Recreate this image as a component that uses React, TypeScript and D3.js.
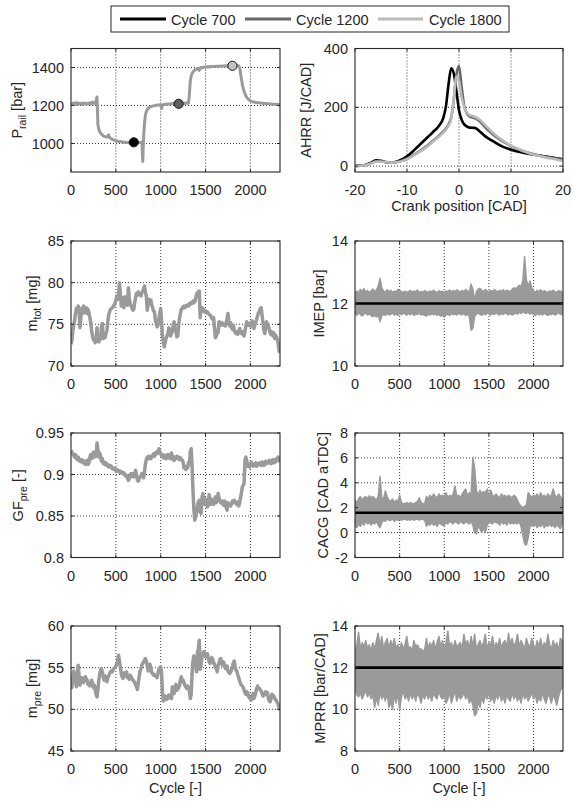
import React from 'react';
import * as d3 from 'd3';

// ---------- data ----------
const CYCLE_STEP = 10;
const ENV_STEP = 20;
const CYCLE_MAX = 2330;

const cycleTicks = [0, 500, 1000, 1500, 2000];
const pRailTicks = [1000, 1200, 1400];
const ahrrTicks = [0, 200, 400];
const crankTicks = [-20, -10, 0, 10, 20];
const mTotTicks = [70, 75, 80, 85];
const imepTicks = [10, 12, 14];
const gfTicks = [0.8, 0.85, 0.9, 0.95];
const cacgTicks = [-2, 0, 2, 4, 6, 8];
const mPreTicks = [45, 50, 55, 60];
const mprrTicks = [8, 10, 12, 14];

const legendLabels = ['Cycle 700', 'Cycle 1200', 'Cycle 1800'];
const markerCycles = [700, 1200, 1800];
const markerValues = [1006, 1209, 1409];

// rail pressure, every 10 cycles
const pRail = [
  1210, 1206, 1212, 1208, 1214, 1205, 1210, 1215, 1207, 1212,
  1209, 1213, 1206, 1211, 1208, 1214, 1210, 1207, 1212, 1209,
  1211, 1215, 1208, 1212, 1218, 1210, 1214, 1212, 1225, 1245,
  1100, 1075, 1062, 1055, 1050, 1045, 1040, 1038, 1036, 1035,
  1034, 1040, 1045, 1032, 1028, 1025, 1022, 1020, 1018, 1016,
  1014, 1013, 1012, 1011, 1010, 1010, 1009, 1008, 1008, 1007,
  1007, 1006, 1006, 1005, 1005, 1006, 1005, 1005, 1006, 1005,
  1006, 1005, 1004, 1006, 1005, 1004, 1005, 1006, 1003, 1008,
  905, 1040, 1110, 1150, 1168, 1178, 1185, 1189, 1192, 1194,
  1195, 1197, 1198, 1199, 1200, 1201, 1202, 1202, 1203, 1204,
  1200, 1185, 1203, 1205, 1206, 1206, 1207, 1207, 1208, 1208,
  1208, 1209, 1209, 1210, 1210, 1210, 1211, 1211, 1210, 1211,
  1211, 1211, 1212, 1211, 1212, 1212, 1211, 1212, 1212, 1213,
  1212, 1213, 1260, 1330, 1355, 1368, 1376, 1382, 1386, 1390,
  1392, 1394, 1396, 1385, 1398, 1400, 1399, 1401, 1402, 1401,
  1403, 1402, 1404, 1403, 1404, 1405, 1404, 1405, 1405, 1406,
  1405, 1406, 1406, 1407, 1406, 1407, 1407, 1408, 1407, 1408,
  1408, 1408, 1409, 1408, 1409, 1409, 1410, 1409, 1410, 1410,
  1410, 1410, 1411, 1410, 1411, 1410, 1410, 1408, 1400, 1370,
  1340, 1310, 1290, 1275, 1262, 1250, 1243, 1237, 1232, 1228,
  1225, 1222, 1220, 1219, 1218, 1217, 1216, 1215, 1215, 1214,
  1214, 1213, 1213, 1212, 1212, 1211, 1211, 1210, 1210, 1210,
  1209, 1209, 1208, 1208, 1207, 1207, 1206, 1206, 1206, 1205,
  1205, 1205, 1204, 1204,
];

const mTot = [
  72.6, 73.0, 74.2, 74.8, 75.5, 76.3, 76.9, 76.5, 77.2, 76.8,
  74.6, 75.8, 76.9, 76.3, 77.2, 76.7, 76.4, 77.0, 76.3, 76.8,
  76.4, 75.8, 75.2, 74.2, 73.6, 73.2, 73.0, 72.8, 73.1, 74.6,
  73.0, 72.9, 73.4, 73.2, 74.8, 75.1, 73.3, 73.6, 73.4, 73.9,
  74.2, 75.3, 76.1, 76.5, 76.8, 76.9, 77.0, 77.1, 77.3, 77.5,
  77.9, 78.4, 78.0, 78.6, 80.0, 78.8, 77.2, 77.8, 78.2, 77.0,
  78.3, 77.6, 77.9, 77.3, 79.4, 78.1, 77.5, 77.2, 76.9, 76.7,
  76.8, 77.6, 78.2, 78.7, 78.5, 78.9, 78.6, 78.7, 78.4, 78.8,
  79.0, 79.3, 79.6, 78.8, 78.4, 76.7, 77.5, 78.0, 77.6, 77.9,
  77.3, 77.0, 76.6, 76.5, 75.6, 75.1, 74.7, 74.9, 75.7, 76.4,
  76.9, 75.2, 73.6, 72.8, 72.3, 72.9, 73.3, 73.6, 73.9, 74.6,
  74.3, 73.6, 73.9, 74.1, 75.0, 75.3, 74.5, 74.2, 73.5, 73.6,
  74.9, 75.8, 76.3, 76.8, 76.9, 77.1, 77.2, 77.0, 77.1, 77.3,
  77.3, 77.2, 77.5, 77.4, 77.6, 77.5, 77.8, 77.6, 77.7, 78.1,
  78.6, 78.8, 78.9, 79.0, 75.8, 76.9, 77.0, 76.6, 76.8, 76.5,
  76.6, 76.4, 76.5, 76.3, 76.2, 76.1, 76.0, 75.7, 75.6, 75.8,
  74.5, 73.4, 73.6, 74.2, 74.0, 75.3, 75.0, 74.9, 75.2, 75.1,
  74.9, 75.0, 74.8, 75.2, 75.7, 76.3, 75.4, 74.8, 75.2, 74.6,
  74.4, 74.9, 74.3, 74.0, 73.9, 74.1, 73.8, 74.2, 74.5, 74.0,
  73.9, 74.1, 73.8, 73.6, 74.2, 74.8, 75.3, 75.0, 74.9, 75.1,
  74.8, 75.2, 75.4, 74.7, 74.5, 75.0, 75.3, 75.6, 76.0, 76.4,
  76.5, 76.9, 77.0, 76.1, 75.2, 74.3, 73.9, 74.6, 75.3, 75.0,
  74.8, 74.4, 74.0, 73.8, 74.1, 73.6, 74.0, 73.3, 73.7, 73.5,
  73.2, 72.7, 71.8, 71.6,
];

const gfPre = [
  0.929, 0.927, 0.925, 0.923, 0.921, 0.924, 0.920, 0.918, 0.921, 0.917,
  0.916, 0.918, 0.915, 0.917, 0.914, 0.916, 0.912, 0.914, 0.917, 0.912,
  0.914, 0.921, 0.924, 0.919, 0.923, 0.927, 0.921, 0.925, 0.922, 0.938,
  0.930, 0.921, 0.926, 0.922, 0.916, 0.919, 0.913, 0.915, 0.912, 0.914,
  0.911, 0.912, 0.909, 0.911, 0.909, 0.910, 0.907, 0.908, 0.906, 0.907,
  0.905, 0.906, 0.904, 0.905, 0.903, 0.904, 0.902, 0.903, 0.901, 0.902,
  0.900, 0.898, 0.899, 0.896, 0.893, 0.895, 0.899, 0.901, 0.898, 0.901,
  0.897, 0.899, 0.905, 0.900, 0.893, 0.892, 0.895, 0.897, 0.898, 0.901,
  0.898, 0.896, 0.904, 0.913, 0.918, 0.921, 0.919, 0.922, 0.920, 0.919,
  0.921, 0.923, 0.925, 0.922, 0.926, 0.927, 0.925, 0.928, 0.931, 0.927,
  0.925, 0.922, 0.924, 0.920, 0.921, 0.923, 0.919, 0.922, 0.924, 0.920,
  0.921, 0.919, 0.926, 0.922, 0.918, 0.917, 0.921, 0.919, 0.922, 0.920,
  0.921, 0.918, 0.920, 0.918, 0.917, 0.915, 0.908, 0.910, 0.906, 0.909,
  0.908, 0.914, 0.912, 0.928, 0.931, 0.910, 0.880, 0.858, 0.845, 0.850,
  0.855, 0.862, 0.867, 0.869, 0.855, 0.853, 0.872, 0.877, 0.868, 0.864,
  0.866, 0.870, 0.861, 0.863, 0.876, 0.869, 0.864, 0.870, 0.867, 0.864,
  0.869, 0.873, 0.866, 0.870, 0.877, 0.872, 0.868, 0.866, 0.868, 0.865,
  0.863, 0.868, 0.867, 0.860, 0.857, 0.866, 0.864, 0.863, 0.862, 0.865,
  0.868, 0.866, 0.869, 0.866, 0.865, 0.864, 0.867, 0.862, 0.866, 0.872,
  0.878, 0.885, 0.887, 0.890, 0.917, 0.921, 0.916, 0.910, 0.912, 0.909,
  0.912, 0.915, 0.913, 0.910, 0.912, 0.911, 0.914, 0.910, 0.913, 0.912,
  0.914, 0.912, 0.911, 0.915, 0.913, 0.911, 0.914, 0.916, 0.913, 0.915,
  0.914, 0.917, 0.915, 0.913, 0.916, 0.918, 0.914, 0.917, 0.915, 0.919,
  0.918, 0.921, 0.917, 0.915,
];

const mPre = [
  53.0, 52.6, 53.8, 54.6, 54.3, 53.4, 52.7, 54.2, 55.3, 54.1,
  52.9, 53.4, 53.8, 53.5, 53.2, 53.6, 53.9, 53.7, 53.5, 53.0,
  53.2, 52.8, 53.0, 53.5, 53.1, 52.6, 52.9, 52.3, 51.8, 51.5,
  52.4, 53.5, 54.2, 54.7, 54.9, 54.4, 53.8, 53.5, 54.0, 53.8,
  53.3, 53.8, 54.0, 54.3, 54.5, 54.6, 54.5, 54.8, 54.9, 55.0,
  55.2, 55.4, 55.7, 56.5, 55.8, 55.1, 54.3, 53.9, 53.7, 54.4,
  54.0, 54.2, 54.5, 53.8, 54.0, 53.6, 54.1, 53.9, 53.7, 53.5,
  53.4, 53.2, 53.0, 52.7, 52.4, 53.2, 53.9, 54.6, 54.9, 55.3,
  55.5, 55.7, 55.9, 56.1, 55.8, 55.2, 54.6, 54.8, 55.4, 55.0,
  54.4, 54.3, 54.1, 54.2, 54.0, 53.9, 53.8, 54.3, 54.8, 55.0,
  55.1, 54.3, 52.0, 51.0, 51.2, 51.6, 51.4, 51.2, 51.5, 51.7,
  51.4, 51.6, 51.3, 52.7, 52.2, 51.9, 52.6, 53.0, 52.3, 52.4,
  52.6, 52.9, 53.6, 53.9, 53.3, 53.5, 53.2, 52.9, 52.7, 52.5,
  52.8, 52.6, 52.2, 51.3, 51.8, 54.3, 55.8, 56.4, 55.6, 55.4,
  54.5, 56.8, 57.3, 58.3, 54.8, 55.3, 56.4, 56.7, 56.9, 56.6,
  56.3, 56.6, 56.7, 56.2, 55.7, 55.5, 55.9, 56.2, 56.0, 55.6,
  55.4, 55.0, 54.9, 54.5, 55.2, 55.6, 56.0, 56.1, 55.5, 55.3,
  55.7, 55.4, 54.9, 55.1, 55.2, 54.6, 54.4, 54.3, 54.5, 54.7,
  55.0, 55.6, 55.8, 55.1, 54.7, 54.5, 54.1, 53.8, 53.4, 53.1,
  52.9, 52.8, 52.6, 52.3, 52.0, 51.8, 52.1, 52.0, 51.5, 51.4,
  51.2, 51.1, 51.6, 51.9, 51.3, 51.6, 52.0, 52.5, 52.8, 52.6,
  52.5, 52.3, 52.2, 51.9, 51.6, 51.7, 51.9, 52.1, 51.8, 52.0,
  51.4, 51.0, 50.9, 51.3, 51.8, 51.7, 51.6, 51.3, 51.2, 51.0,
  50.8, 50.6, 50.2, 49.9,
];

// envelopes of the fast-fluctuating signals, every 20 cycles
const imepUpper = [
  12.35, 12.40, 12.33, 12.45, 12.38, 12.48, 12.36, 12.42, 12.35, 12.40,
  12.46, 12.38, 12.44, 12.55, 12.80, 12.50, 12.40, 12.36, 12.44, 12.38,
  12.42, 12.35, 12.40, 12.37, 12.45, 12.42, 12.38, 12.35, 12.40, 12.36,
  12.38, 12.42, 12.36, 12.40, 12.37, 12.43, 12.35, 12.39, 12.36, 12.41,
  12.38, 12.36, 12.40, 12.37, 12.42, 12.38, 12.35, 12.41, 12.37, 12.39,
  12.36, 12.40, 12.38, 12.43, 12.37, 12.41, 12.38, 12.44, 12.40, 12.37,
  12.42, 12.38, 12.45, 12.40, 12.36, 12.62, 12.45, 12.10, 12.38, 12.46,
  12.48, 12.42, 12.38, 12.45, 12.40, 12.37, 12.42, 12.38, 12.45, 12.40,
  12.37, 12.42, 12.39, 12.44, 12.38, 12.42, 12.40, 12.37, 12.45, 12.50,
  12.48, 12.52, 12.58, 12.55, 12.70, 13.50, 12.75, 12.55, 12.72, 12.50,
  12.40, 12.36, 12.42, 12.38, 12.44, 12.37, 12.41, 12.38, 12.35, 12.40,
  12.37, 12.42, 12.38, 12.35, 12.41, 12.39, 12.37,
];
const imepLower = [
  11.68, 11.62, 11.70, 11.65, 11.60, 11.66, 11.70, 11.63, 11.67, 11.61,
  11.58, 11.62, 11.57, 11.64, 11.42, 11.60, 11.66, 11.62, 11.68, 11.64,
  11.65, 11.70, 11.63, 11.67, 11.62, 11.68, 11.64, 11.70, 11.66, 11.63,
  11.68, 11.64, 11.70, 11.62, 11.67, 11.65, 11.69, 11.63, 11.66, 11.62,
  11.60, 11.66, 11.63, 11.68, 11.64, 11.67, 11.62, 11.65, 11.60, 11.62,
  11.57, 11.63, 11.66, 11.62, 11.68, 11.64, 11.67, 11.63, 11.69, 11.65,
  11.64, 11.68, 11.62, 11.66, 11.60, 11.15, 11.20, 11.58, 11.66, 11.70,
  11.65, 11.62, 11.68, 11.64, 11.70, 11.66, 11.63, 11.68, 11.65, 11.70,
  11.66, 11.63, 11.69, 11.65, 11.70, 11.67, 11.64, 11.68, 11.63, 11.66,
  11.70, 11.66, 11.72, 11.68, 11.74, 11.70, 11.68, 11.72, 11.66, 11.70,
  11.65, 11.62, 11.68, 11.64, 11.67, 11.63, 11.69, 11.65, 11.62, 11.66,
  11.64, 11.68, 11.63, 11.67, 11.70, 11.66, 11.64,
];
const imepMean = 12.0;

const cacgUpper = [
  2.6, 2.4, 2.7, 2.9, 2.6, 2.8, 2.9, 2.7, 2.95, 2.8,
  2.9, 2.75, 2.6, 2.9, 4.5, 2.8, 2.7, 3.35, 2.9, 2.6,
  2.5, 2.7, 2.4, 2.6, 2.5, 3.0, 2.4, 2.3, 2.35, 2.4,
  2.3, 2.4, 2.35, 2.3, 2.4, 2.5, 2.8, 2.4, 2.35, 2.3,
  2.9, 2.7, 3.0, 2.8, 3.1, 2.9, 2.8, 3.1, 2.9, 3.0,
  2.9, 3.2, 2.8, 3.0, 2.9, 3.1, 3.75, 2.9, 3.0, 2.8,
  3.1, 3.3, 3.5, 2.9, 3.2, 3.0, 6.05, 5.2, 3.4, 3.0,
  3.4, 3.1, 3.3, 3.2, 3.5, 2.9, 3.4, 3.0, 2.9, 3.1,
  2.9, 2.8, 3.1, 2.9, 3.0, 2.8, 3.0, 2.9, 2.8, 3.0,
  2.9, 2.6, 2.3, 2.1, 2.0, 2.1, 2.2, 3.2, 3.0, 2.8,
  3.0, 2.9, 3.1, 2.8, 3.2, 2.9, 3.0, 2.8, 3.1, 2.9,
  3.0, 3.5, 3.0, 2.8, 3.1, 2.9, 2.7,
];
const cacgLower = [
  0.6, 0.4, 0.7, 0.5, 0.8, 0.6, 0.9, 0.7, 0.8, 0.6,
  0.8, 0.7, 0.9, 0.6, 0.4, 0.8, 1.0, 0.9, 1.1, 1.0,
  1.0, 1.1, 0.9, 1.05, 1.0, 1.1, 1.0, 1.05, 1.1, 1.0,
  1.05, 1.0, 1.1, 1.0, 1.05, 1.1, 1.0, 1.1, 1.05, 1.0,
  0.5, 0.7, 0.6, 0.8, 0.6, 0.7, 0.5, 0.8, 0.7, 0.6,
  0.6, 0.8, 0.7, 0.9, 0.8, 0.7, 0.9, 0.8, 0.7, 0.9,
  0.8, 0.7, 0.9, 0.8, 0.7, 0.9, 0.6, 0.0, -0.1, 0.5,
  0.3, 0.0, 0.4, 0.0, 0.6, 0.9, 0.8, 0.7, 0.9, 0.8,
  0.8, 0.6, 0.9, 0.7, 0.8, 0.6, 0.9, 0.7, 0.8, 0.7,
  0.8, 0.7, 0.9, 0.5, -0.2, -0.9, -1.0, -0.4, 0.5, 0.6,
  0.5, 0.7, 0.4, 0.6, 0.5, 0.7, 0.4, 0.6, 0.5, 0.7,
  0.5, 0.6, 0.4, 0.6, 0.5, 0.3, 0.7,
];
const cacgMean = 1.6;

const mprrUpper = [
  12.7, 13.1, 13.7, 12.9, 13.2, 13.0, 13.3, 12.9, 13.1, 12.8,
  13.2, 12.9, 13.3, 13.65, 13.0, 13.5, 12.9, 13.2, 13.4, 12.9,
  13.3, 13.0, 13.4, 12.9, 13.1, 12.8, 13.2, 12.9, 13.1, 13.5,
  12.9, 13.0, 12.8, 13.3, 13.0, 13.1, 12.9, 12.9, 12.8, 12.85,
  13.4, 12.9, 13.2, 13.0, 13.3, 12.9, 13.2, 13.5, 13.0, 13.3,
  12.9, 13.2, 13.75, 13.0, 13.2, 12.9, 13.3, 13.0, 13.1, 13.2,
  12.9, 13.6, 13.1, 13.3, 12.9, 13.5, 13.0, 13.6, 12.9, 13.1,
  13.3, 13.0, 13.2, 13.6, 12.9, 13.2, 13.1, 13.5, 12.9, 13.2,
  13.0, 13.4, 12.9, 13.2, 13.3, 13.0, 13.65, 13.1, 13.4, 13.0,
  13.2, 13.6, 13.0, 13.3, 13.1, 12.9, 13.4, 13.1, 13.0, 13.4,
  13.1, 12.9, 13.3, 13.0, 13.4, 12.9, 13.2, 13.0, 13.6, 13.1,
  12.9, 13.3, 13.0, 13.2, 12.8, 13.4, 13.3,
];
const mprrLower = [
  11.0, 10.7, 10.6, 10.8, 10.5, 10.7, 10.9, 10.6, 10.8, 10.5,
  10.7, 10.1, 10.6, 10.2, 10.8, 10.5, 10.7, 10.4, 10.8, 10.1,
  10.4, 10.0, 10.7, 10.3, 10.8, 10.0, 10.6, 10.9, 10.5, 10.7,
  10.4, 10.8, 10.5, 10.7, 10.4, 10.8, 10.6, 10.3, 10.7, 10.5,
  10.8, 10.5, 10.7, 10.4, 10.8, 10.6, 10.5, 10.9, 10.6, 10.5,
  10.7, 10.3, 10.5, 10.8, 10.3, 10.6, 10.9, 10.4, 10.7, 10.5,
  10.6, 10.8, 10.5, 10.7, 10.3, 10.5, 10.2, 9.7, 9.8, 10.4,
  10.1, 10.6, 10.3, 10.7, 10.5, 10.8, 10.4, 10.6, 10.3, 10.7,
  10.5, 10.8, 10.4, 10.6, 10.3, 10.7, 10.5, 10.4, 10.8, 10.5,
  10.7, 10.4, 10.6, 10.3, 10.8, 10.5, 10.7, 10.4, 10.6, 10.8,
  10.5, 10.7, 10.3, 10.6, 10.4, 10.8, 10.5, 10.3, 10.7, 10.6,
  10.3, 10.7, 10.5, 10.2, 10.6, 10.9, 11.0,
];
const mprrMean = 12.0;

// apparent heat release rate vs crank position
const crankPos = [
  -20, -19, -18, -17, -16, -15, -14, -13, -12, -11, -10, -9, -8, -7, -6, -5, -4, -3,
  -2.5, -2, -1.5, -1, -0.5, 0, 0.5, 1, 1.5, 2,
  3, 4, 5, 6, 7, 8, 9, 10, 11, 12, 13, 14, 15, 16, 17, 18, 19, 20,
];
const ahrr700 = [
  1, 2, 4, 11, 20, 18, 13, 12, 15, 23, 33, 48, 65, 82, 99, 116, 134, 165,
  205, 280, 333, 315, 255, 190, 158, 142, 135, 131,
  130, 118, 102, 90, 80, 70, 62, 56, 51, 47, 43, 40, 37, 34, 32, 29, 26, 23,
];
const ahrr1200 = [
  0, 1, 4, 9, 16, 16, 14, 13, 14, 18, 25, 35, 46, 58, 71, 86, 101, 118,
  128, 142, 165, 225, 310, 340, 270, 205, 180, 170,
  163, 152, 133, 116, 101, 89, 78, 68, 60, 53, 47, 42, 38, 34, 31, 28, 25, 22,
];
const ahrr1800 = [
  0, 1, 3, 8, 15, 15, 13, 12, 13, 17, 24, 33, 44, 55, 68, 83, 98, 114,
  124, 138, 160, 230, 305, 290, 235, 200, 182, 174,
  168, 158, 140, 122, 106, 92, 80, 70, 61, 54, 47, 41, 36, 32, 28, 25, 21, 18,
];

// ---------- styling ----------
const FONT = "'Liberation Sans', Arial, Helvetica, sans-serif";
const FS = 14.5;
const TXT = '#262626';
const SERIES = '#9a9a9a';
const cycleColors = ['#000000', '#676767', '#bababa'];
const markerFills = ['#000000', '#5f5f5f', '#c0c0c0'];

const stepCycles = (n: number, step: number) => d3.range(n).map((i) => Math.min(i * step, CYCLE_MAX));

type Scale = d3.ScaleLinear<number, number>;

interface PanelProps {
  id: string;
  left: number;
  top: number;
  width: number;
  height: number;
  xDomain: [number, number];
  yDomain: [number, number];
  xTicks: number[];
  yTicks: number[];
  ylabel: React.ReactNode;
  ylabelX: number;
  xlabel?: string;
  xlabelY?: number;
  render: (x: Scale, y: Scale) => React.ReactNode;
}

function Panel(p: PanelProps) {
  const x = d3.scaleLinear().domain(p.xDomain).range([p.left, p.left + p.width]);
  const y = d3.scaleLinear().domain(p.yDomain).range([p.top + p.height, p.top]);
  const bottom = p.top + p.height;
  const right = p.left + p.width;
  const tl = 3;
  const innerX = p.xTicks.filter((t) => Math.abs(x(t) - p.left) > 1 && Math.abs(x(t) - right) > 1);
  const innerY = p.yTicks.filter((t) => Math.abs(y(t) - p.top) > 1 && Math.abs(y(t) - bottom) > 1);
  return (
    <g>
      <defs>
        <clipPath id={p.id}>
          <rect x={p.left} y={p.top} width={p.width} height={p.height} />
        </clipPath>
      </defs>
      <rect x={p.left} y={p.top} width={p.width} height={p.height} fill="#fff" />
      {innerX.map((t) => (
        <line key={'gx' + t} x1={x(t)} x2={x(t)} y1={p.top} y2={bottom} stroke="#262626" strokeWidth={0.9} strokeDasharray="1 2" />
      ))}
      {innerY.map((t) => (
        <line key={'gy' + t} x1={p.left} x2={right} y1={y(t)} y2={y(t)} stroke="#262626" strokeWidth={0.9} strokeDasharray="1 2" />
      ))}
      <g clipPath={`url(#${p.id})`}>{p.render(x, y)}</g>
      {p.xTicks.map((t) => (
        <g key={'tx' + t}>
          <line x1={x(t)} x2={x(t)} y1={bottom} y2={bottom - tl} stroke="#262626" />
          <line x1={x(t)} x2={x(t)} y1={p.top} y2={p.top + tl} stroke="#262626" />
          <text x={x(t)} y={bottom + 23} textAnchor="middle" fontSize={FS} fill={TXT} fontFamily={FONT}>
            {String(t)}
          </text>
        </g>
      ))}
      {p.yTicks.map((t) => (
        <g key={'ty' + t}>
          <line x1={p.left} x2={p.left + tl} y1={y(t)} y2={y(t)} stroke="#262626" />
          <line x1={right} x2={right - tl} y1={y(t)} y2={y(t)} stroke="#262626" />
          <text x={p.left - 7} y={y(t) + 5} textAnchor="end" fontSize={FS} fill={TXT} fontFamily={FONT}>
            {String(t)}
          </text>
        </g>
      ))}
      <rect x={p.left} y={p.top} width={p.width} height={p.height} fill="none" stroke="#262626" strokeWidth={1.1} />
      <text
        transform={`translate(${p.ylabelX},${p.top + p.height / 2}) rotate(-90)`}
        textAnchor="middle"
        fontSize={FS}
        fill={TXT}
        fontFamily={FONT}
      >
        {p.ylabel}
      </text>
      {p.xlabel && (
        <text x={p.left + p.width / 2} y={p.xlabelY} textAnchor="middle" fontSize={FS} fill={TXT} fontFamily={FONT}>
          {p.xlabel}
        </text>
      )}
    </g>
  );
}

const Sub = ({ children }: { children: string }) => (
  <tspan fontSize={10.5} dy={3.5}>
    {children}
  </tspan>
);
const Rest = ({ children }: { children: string }) => <tspan dy={-3.5}>{children}</tspan>;

function seriesLine(x: Scale, y: Scale, values: number[], color: string, width: number) {
  const xs = stepCycles(values.length, CYCLE_STEP);
  const gen = d3
    .line<number>()
    .x((_, i) => x(xs[i]))
    .y((d) => y(d));
  return <path d={gen(values) || ''} fill="none" stroke={color} strokeWidth={width} strokeLinejoin="round" />;
}

function band(x: Scale, y: Scale, upper: number[], lower: number[], mean: number) {
  const xs = stepCycles(upper.length, ENV_STEP);
  const area = d3
    .area<number>()
    .x((_, i) => x(xs[i]))
    .y0((_, i) => y(lower[i]))
    .y1((d) => y(d));
  return (
    <g>
      <path d={area(upper) || ''} fill={SERIES} stroke={SERIES} strokeWidth={1.5} strokeLinejoin="round" />
      <line x1={x(0)} x2={x(CYCLE_MAX)} y1={y(mean)} y2={y(mean)} stroke="#000" strokeWidth={2.6} />
    </g>
  );
}

const LEFT = { left: 71, width: 209 };
const RIGHT = { left: 355, width: 208 };
const ROWS = [
  { top: 48.5, height: 123.5 },
  { top: 241, height: 125 },
  { top: 433, height: 124.5 },
  { top: 626, height: 125 },
];
const cycDom: [number, number] = [0, CYCLE_MAX];

export default function App() {
  const ahrrSeries = [ahrr700, ahrr1200, ahrr1800];
  const legendLine = [
    [120, 166, 171],
    [245, 291, 296],
    [378, 423, 429],
  ];
  return (
    <svg width={572} height={803} style={{ position: 'absolute', left: 0, top: 0, background: '#fff' }}>
      <rect width={572} height={803} fill="#fff" />
      {/* legend */}
      <rect x={111} y={6} width={398} height={26} fill="#fff" stroke="#262626" strokeWidth={1} />
      {legendLabels.map((lab, i) => (
        <g key={lab}>
          <line x1={legendLine[i][0]} x2={legendLine[i][1]} y1={19} y2={19} stroke={cycleColors[i]} strokeWidth={3} />
          <text x={legendLine[i][2]} y={24.5} fontSize={FS} fill={TXT} fontFamily={FONT}>
            {lab}
          </text>
        </g>
      ))}

      {/* row 1 left: rail pressure */}
      <Panel
        id="c1"
        {...LEFT}
        {...ROWS[0]}
        xDomain={cycDom}
        yDomain={[850, 1500]}
        xTicks={cycleTicks}
        yTicks={pRailTicks}
        ylabelX={22}
        ylabel={<>P<Sub>rail</Sub><Rest> [bar]</Rest></>}
        render={(x, y) => (
          <g>
            {seriesLine(x, y, pRail, SERIES, 3)}
            {markerCycles.map((c, i) => (
              <circle key={c} cx={x(c)} cy={y(markerValues[i])} r={4.6} fill={markerFills[i]} stroke="#1a1a1a" strokeWidth={1} />
            ))}
          </g>
        )}
      />
      {/* row 1 right: AHRR */}
      <Panel
        id="c2"
        {...RIGHT}
        {...ROWS[0]}
        xDomain={[-20, 20]}
        yDomain={[-20, 400]}
        xTicks={crankTicks}
        yTicks={ahrrTicks}
        ylabelX={311}
        ylabel="AHRR [J/CAD]"
        xlabel="Crank position [CAD]"
        xlabelY={211}
        render={(x, y) => (
          <g>
            {ahrrSeries.map((s, k) => {
              const gen = d3
                .line<number>()
                .x((_, i) => x(crankPos[i]))
                .y((d) => y(d))
                .curve(d3.curveMonotoneX);
              return <path key={k} d={gen(s) || ''} fill="none" stroke={cycleColors[k]} strokeWidth={2.6} />;
            })}
          </g>
        )}
      />
      {/* row 2 */}
      <Panel
        id="c3"
        {...LEFT}
        {...ROWS[1]}
        xDomain={cycDom}
        yDomain={[70, 85]}
        xTicks={cycleTicks}
        yTicks={mTotTicks}
        ylabelX={37}
        ylabel={<>m<Sub>tot</Sub><Rest> [mg]</Rest></>}
        render={(x, y) => seriesLine(x, y, mTot, SERIES, 3.5)}
      />
      <Panel
        id="c4"
        {...RIGHT}
        {...ROWS[1]}
        xDomain={cycDom}
        yDomain={[10, 14]}
        xTicks={cycleTicks}
        yTicks={imepTicks}
        ylabelX={324}
        ylabel="IMEP [bar]"
        render={(x, y) => band(x, y, imepUpper, imepLower, imepMean)}
      />
      {/* row 3 */}
      <Panel
        id="c5"
        {...LEFT}
        {...ROWS[2]}
        xDomain={cycDom}
        yDomain={[0.8, 0.95]}
        xTicks={cycleTicks}
        yTicks={gfTicks}
        ylabelX={23}
        ylabel={<>GF<Sub>pre</Sub><Rest> [-]</Rest></>}
        render={(x, y) => seriesLine(x, y, gfPre, SERIES, 3.5)}
      />
      <Panel
        id="c6"
        {...RIGHT}
        {...ROWS[2]}
        xDomain={cycDom}
        yDomain={[-2, 8]}
        xTicks={cycleTicks}
        yTicks={cacgTicks}
        ylabelX={328}
        ylabel="CACG [CAD aTDC]"
        render={(x, y) => band(x, y, cacgUpper, cacgLower, cacgMean)}
      />
      {/* row 4 */}
      <Panel
        id="c7"
        {...LEFT}
        {...ROWS[3]}
        xDomain={cycDom}
        yDomain={[45, 60]}
        xTicks={cycleTicks}
        yTicks={mPreTicks}
        ylabelX={37}
        ylabel={<>m<Sub>pre</Sub><Rest> [mg]</Rest></>}
        xlabel="Cycle [-]"
        xlabelY={793}
        render={(x, y) => seriesLine(x, y, mPre, SERIES, 3.5)}
      />
      <Panel
        id="c8"
        {...RIGHT}
        {...ROWS[3]}
        xDomain={cycDom}
        yDomain={[8, 14]}
        xTicks={cycleTicks}
        yTicks={mprrTicks}
        ylabelX={325}
        ylabel="MPRR [bar/CAD]"
        xlabel="Cycle [-]"
        xlabelY={793}
        render={(x, y) => band(x, y, mprrUpper, mprrLower, mprrMean)}
      />
    </svg>
  );
}
